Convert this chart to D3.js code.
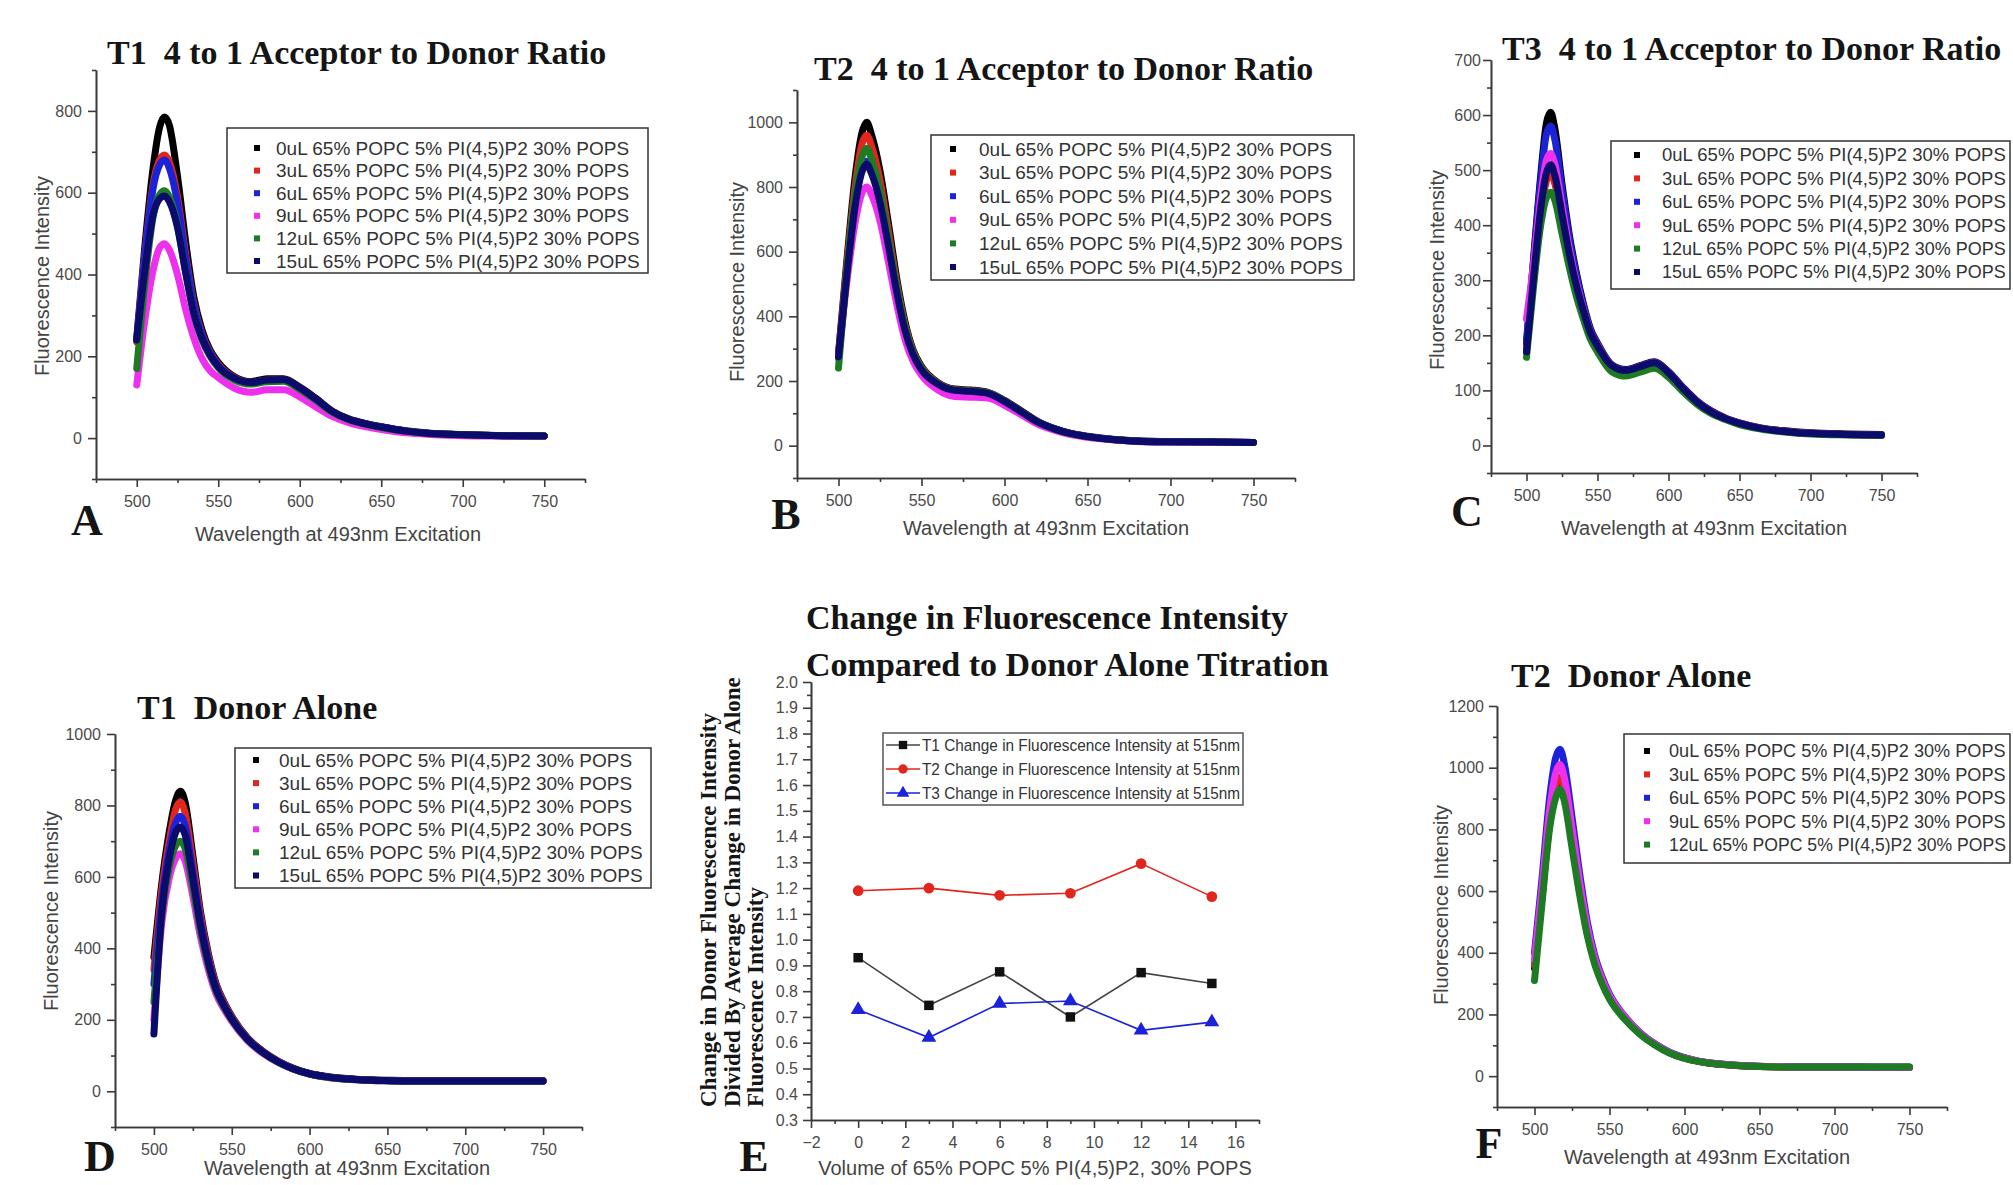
<!DOCTYPE html>
<meta charset="utf-8">
<style>
body { margin: 0; background: #fff; }
.axis path, .axis line { stroke: #3a3a3a; stroke-width: 1.6px; }
.axis text { font-family: "Liberation Sans", Arial, sans-serif; font-size: 16px; fill: #4a4a4a; }
.title { font-family: "Liberation Serif", "Times New Roman", serif; font-weight: bold; font-size: 34px; fill: #151515; white-space: pre; }
.letter { font-family: "Liberation Serif", "Times New Roman", serif; font-weight: bold; font-size: 44px; fill: #151515; }
.axis-label { font-family: "Liberation Sans", Arial, sans-serif; font-size: 20px; fill: #444; }
.legend text { font-family: "Liberation Sans", Arial, sans-serif; font-size: 19px; fill: #333; }
.spectrum { fill: none; stroke-width: 7px; stroke-linejoin: round; stroke-linecap: round; }
</style>
<body></body>
<script src="https://d3js.org/d3.v7.min.js"></script>
<script>

var wavelengths = [500, 505, 510, 514, 517, 520, 525, 530, 535, 540, 545, 550, 560, 570, 580, 590, 600, 610, 620, 630, 640, 650, 665, 680, 700, 725, 750];
var volumes = ["0uL", "3uL", "6uL", "9uL", "12uL", "15uL"];
var mixture = "65% POPC 5% PI(4,5)P2 30% POPS";
var seriesColors = ["#000000", "#e0261d", "#1c22d8", "#ee2fee", "#1f7a24", "#0b0b6b"];

// T1 4:1 acceptor to donor, one row per volume
var t1Acceptor = [
  [245, 470, 660, 760, 785, 765, 640, 480, 345, 265, 215, 185, 150, 138, 145, 145, 125, 97, 66, 47, 36, 28, 18, 12, 9, 6, 5],
  [235, 450, 620, 680, 692, 675, 590, 450, 330, 255, 210, 180, 148, 136, 142, 143, 123, 95, 65, 46, 35, 27, 17, 11, 8, 6, 5],
  [240, 445, 610, 668, 680, 660, 575, 440, 325, 252, 208, 178, 147, 135, 141, 142, 122, 94, 64, 46, 35, 27, 17, 11, 8, 6, 5],
  [130, 290, 410, 465, 475, 460, 400, 315, 245, 195, 165, 148, 122, 112, 118, 118, 101, 76, 53, 38, 28, 21, 13, 9, 6, 5, 4],
  [170, 380, 540, 595, 605, 590, 520, 405, 305, 240, 200, 172, 142, 132, 138, 139, 119, 92, 63, 45, 34, 26, 17, 11, 8, 6, 5],
  [240, 410, 545, 585, 592, 578, 515, 405, 305, 245, 203, 175, 146, 136, 142, 143, 123, 95, 65, 46, 35, 27, 17, 11, 8, 6, 5]
];

// T2 4:1 acceptor to donor
var t2Acceptor = [
  [285, 570, 830, 965, 1000, 960, 850, 690, 520, 385, 295, 245, 195, 175, 172, 165, 140, 108, 75, 53, 38, 29, 20, 15, 12, 11, 10],
  [280, 555, 800, 930, 960, 925, 820, 665, 505, 375, 290, 242, 193, 173, 170, 163, 138, 106, 74, 52, 37, 28, 19, 14, 12, 11, 10],
  [275, 530, 745, 855, 880, 850, 760, 625, 480, 360, 282, 236, 190, 171, 168, 162, 137, 105, 73, 52, 37, 28, 19, 14, 12, 11, 10],
  [270, 505, 690, 780, 800, 775, 695, 570, 440, 330, 260, 218, 172, 152, 150, 147, 125, 96, 67, 48, 34, 26, 18, 13, 11, 10, 10],
  [240, 540, 775, 890, 920, 885, 790, 645, 495, 370, 287, 240, 192, 172, 169, 163, 138, 106, 74, 52, 37, 28, 19, 14, 12, 11, 10],
  [275, 525, 740, 845, 870, 840, 752, 620, 477, 358, 281, 235, 190, 171, 168, 162, 137, 105, 73, 52, 37, 28, 19, 14, 12, 11, 10]
];

// T3 4:1 acceptor to donor
var t3Acceptor = [
  [185, 340, 490, 585, 605, 575, 475, 385, 315, 258, 212, 186, 147, 138, 145, 152, 134, 106, 81, 63, 50, 41, 32, 27, 23, 21, 20],
  [175, 300, 420, 480, 495, 475, 405, 340, 285, 240, 202, 180, 144, 135, 142, 148, 130, 103, 79, 61, 49, 40, 31, 26, 22, 20, 19],
  [190, 335, 480, 565, 580, 555, 465, 378, 310, 255, 210, 184, 146, 137, 144, 151, 133, 105, 80, 62, 49, 40, 31, 26, 22, 20, 19],
  [230, 330, 450, 518, 530, 510, 435, 360, 298, 248, 206, 182, 145, 136, 143, 150, 132, 104, 79, 61, 49, 40, 31, 26, 22, 20, 18],
  [160, 290, 400, 450, 460, 445, 385, 325, 272, 230, 193, 170, 134, 126, 133, 140, 124, 98, 75, 58, 47, 38, 30, 25, 21, 19, 18],
  [170, 305, 430, 495, 510, 490, 420, 350, 292, 245, 205, 181, 145, 136, 143, 150, 132, 104, 79, 61, 49, 40, 31, 26, 22, 20, 19]
];

// T1 donor alone
var t1Donor = [
  [375, 580, 730, 815, 840, 810, 660, 500, 385, 300, 250, 210, 150, 112, 84, 64, 50, 42, 37, 34, 32, 31, 30, 30, 30, 30, 30],
  [340, 560, 705, 790, 810, 780, 640, 490, 378, 296, 247, 208, 149, 111, 83, 63, 49, 41, 36, 33, 31, 30, 29, 29, 29, 29, 29],
  [300, 530, 680, 752, 770, 745, 615, 475, 368, 290, 242, 204, 147, 110, 82, 63, 49, 41, 36, 33, 31, 30, 29, 29, 29, 29, 29],
  [200, 470, 600, 652, 665, 645, 545, 430, 340, 272, 230, 196, 142, 106, 80, 61, 48, 40, 35, 32, 30, 29, 28, 28, 28, 28, 28],
  [250, 490, 630, 688, 700, 680, 570, 448, 352, 280, 236, 200, 145, 108, 81, 62, 48, 40, 35, 32, 30, 29, 28, 28, 28, 28, 28],
  [160, 500, 655, 725, 740, 718, 595, 462, 360, 285, 240, 202, 146, 109, 82, 62, 49, 41, 36, 33, 31, 30, 29, 29, 29, 29, 29]
];

// T2 donor alone (0 to 12 uL)
var t2Donor = [
  [350, 580, 815, 922, 950, 910, 760, 605, 470, 372, 305, 254, 188, 139, 103, 76, 58, 47, 40, 36, 33, 31, 30, 30, 30, 29, 29],
  [360, 590, 830, 940, 970, 930, 775, 615, 478, 377, 309, 257, 190, 140, 104, 77, 59, 48, 41, 36, 33, 31, 30, 30, 30, 29, 29],
  [400, 640, 900, 1030, 1060, 1010, 840, 660, 505, 395, 322, 266, 195, 143, 106, 78, 60, 48, 41, 37, 34, 32, 31, 30, 30, 29, 29],
  [380, 610, 860, 980, 1010, 965, 805, 635, 490, 385, 315, 262, 193, 141, 105, 77, 59, 48, 41, 37, 34, 32, 31, 30, 30, 29, 29],
  [310, 560, 800, 900, 930, 890, 740, 590, 460, 365, 300, 250, 185, 137, 102, 75, 58, 47, 40, 36, 33, 31, 30, 30, 30, 30, 30]
];

// panel E: change at 515nm relative to donor alone
var volumeAdded = [0, 3, 6, 9, 12, 15];
var t1Change = [0.93, 0.745, 0.875, 0.70, 0.872, 0.83];
var t2Change = [1.19, 1.20, 1.172, 1.18, 1.295, 1.167];
var t3Change = [0.728, 0.62, 0.752, 0.762, 0.648, 0.68];
var changeLabels = ["T1 Change in Fluorescence Intensity at 515nm",
                    "T2 Change in Fluorescence Intensity at 515nm",
                    "T3 Change in Fluorescence Intensity at 515nm"];
var changeColors = ["#111111", "#e0261d", "#1c22d8"];

var svg = d3.select("body").append("svg")
    .attr("width", 2013)
    .attr("height", 1185);

var panels = [
  {title: "T1  4 to 1 Acceptor to Donor Ratio", letter: "A", data: t1Acceptor,
   left: 96, right: 585, top: 70, bottom: 479, yDomain: [-100, 900], yStep: 200, pad: 6,
   titleX: 107, titleY: 64, letterX: 87, letterY: 535, xLabelX: 338, xLabelY: 541, yLabelX: 49, yLabelY: 276,
   legend: {x: 227, y: 128, w: 421, h: 145, row0: 148, gap: 22.6, mx: 30, tx: 49}},
  {title: "T2  4 to 1 Acceptor to Donor Ratio", letter: "B", data: t2Acceptor,
   left: 797, right: 1295, top: 90, bottom: 478, yDomain: [-100, 1100], yStep: 200, pad: 6,
   titleX: 814, titleY: 80, letterX: 786, letterY: 529, xLabelX: 1046, xLabelY: 535, yLabelX: 744, yLabelY: 282,
   legend: {x: 931, y: 135, w: 423, h: 145, row0: 149, gap: 23.6, mx: 22, tx: 48}},
  {title: "T3  4 to 1 Acceptor to Donor Ratio", letter: "C", data: t3Acceptor,
   left: 1491, right: 1917, top: 60, bottom: 473, yDomain: [-50, 700], yStep: 100, pad: 2,
   titleX: 1502, titleY: 60, letterX: 1467, letterY: 526, xLabelX: 1704, xLabelY: 535, yLabelX: 1444, yLabelY: 270,
   legend: {x: 1611, y: 141, w: 399, h: 148, row0: 155, gap: 23.4, mx: 26, tx: 51}},
  {title: "T1  Donor Alone", letter: "D", data: t1Donor,
   left: 115, right: 582, top: 734, bottom: 1127, yDomain: [-100, 1000], yStep: 200, pad: 6,
   titleX: 137, titleY: 719, letterX: 100, letterY: 1171, xLabelX: 347, xLabelY: 1175, yLabelX: 58, yLabelY: 911,
   legend: {x: 235, y: 748, w: 416, h: 140, row0: 760, gap: 23.1, mx: 21, tx: 44}},
  {title: "T2  Donor Alone", letter: "F", data: t2Donor,
   left: 1497, right: 1947, top: 706, bottom: 1107, yDomain: [-100, 1200], yStep: 200, pad: 5,
   titleX: 1511, titleY: 687, letterX: 1489, letterY: 1158, xLabelX: 1707, xLabelY: 1164, yLabelX: 1448, yLabelY: 905,
   legend: {x: 1624, y: 734, w: 386, h: 129, row0: 751, gap: 23.4, mx: 23, tx: 45}}
];

panels.forEach(function(p) { drawSpectrum(p); });
drawChange();

function drawSpectrum(p) {
    var x = d3.scaleLinear().domain([475, 775]).range([p.left, p.right]);
    var y = d3.scaleLinear().domain(p.yDomain).range([p.bottom, p.top]);
    var g = svg.append("g");

    var xMajor = d3.range(500, 751, 50);
    var xMinor = d3.range(475, 776, 25).filter(function(v) { return v % 50 !== 0; });
    var yMajor = d3.range(0, p.yDomain[1] + 1, p.yStep);
    var yMinor = d3.range(p.yDomain[0], p.yDomain[1] + 1, p.yStep / 2)
        .filter(function(v) { return v % p.yStep !== 0; });

    // axes, minor ticks first then labelled ones
    g.append("g").attr("class", "axis").attr("transform", "translate(0," + p.bottom + ")")
        .call(d3.axisBottom(x).tickValues(xMinor).tickSize(4).tickSizeOuter(0).tickFormat(""));
    g.append("g").attr("class", "axis").attr("transform", "translate(0," + p.bottom + ")")
        .call(d3.axisBottom(x).tickValues(xMajor).tickSize(8).tickSizeOuter(0).tickPadding(9));
    g.append("g").attr("class", "axis").attr("transform", "translate(" + p.left + ",0)")
        .call(d3.axisLeft(y).tickValues(yMinor).tickSize(4).tickSizeOuter(0).tickFormat(""));
    g.append("g").attr("class", "axis").attr("transform", "translate(" + p.left + ",0)")
        .call(d3.axisLeft(y).tickValues(yMajor).tickSize(8).tickSizeOuter(0)
            .tickPadding(p.pad).tickFormat(d3.format("d")));

    // spectra as thick lines
    var line = d3.line()
        .x(function(d, i) { return x(wavelengths[i]); })
        .y(function(d) { return y(d); })
        .curve(d3.curveMonotoneX);

    g.selectAll(".spectrum").data(p.data).enter().append("path")
        .attr("class", "spectrum")
        .attr("d", line)
        .attr("stroke", function(d, i) { return seriesColors[i]; });

    // legend box
    var lg = g.append("g").attr("class", "legend");
    lg.append("rect")
        .attr("x", p.legend.x).attr("y", p.legend.y)
        .attr("width", p.legend.w).attr("height", p.legend.h)
        .attr("fill", "#fff").attr("stroke", "#333").attr("stroke-width", 1.5);
    var rows = lg.selectAll(".row").data(p.data).enter().append("g")
        .attr("transform", function(d, i) {
            return "translate(" + p.legend.x + "," + (p.legend.row0 + i * p.legend.gap) + ")";
        });
    rows.append("rect")
        .attr("x", p.legend.mx - 3).attr("y", -3)
        .attr("width", 6).attr("height", 6)
        .attr("fill", function(d, i) { return seriesColors[i]; });
    rows.append("text")
        .attr("x", p.legend.tx)
        .attr("dy", "0.35em")
        .text(function(d, i) { return volumes[i] + " " + mixture; })
        .each(function() {
            // shrink the entries that would run past the page edge
            var room = 2006 - (p.legend.x + p.legend.tx);
            var len = this.getComputedTextLength();
            if (len > room) {
                d3.select(this).style("font-size", (19 * room / len).toFixed(2) + "px");
            }
        });

    // texts
    g.append("text").attr("class", "title")
        .attr("x", p.titleX).attr("y", p.titleY)
        .text(p.title);
    g.append("text").attr("class", "letter")
        .attr("x", p.letterX).attr("y", p.letterY)
        .attr("text-anchor", "middle")
        .text(p.letter);
    g.append("text").attr("class", "axis-label")
        .attr("x", p.xLabelX).attr("y", p.xLabelY)
        .attr("text-anchor", "middle")
        .text("Wavelength at 493nm Excitation");
    g.append("text").attr("class", "axis-label")
        .attr("transform", "translate(" + p.yLabelX + "," + p.yLabelY + ") rotate(-90)")
        .attr("text-anchor", "middle")
        .text("Fluorescence Intensity");
}

function drawChange() {
    var x = d3.scaleLinear().domain([-2, 17]).range([811, 1259]);
    var y = d3.scaleLinear().domain([0.3, 2.0]).range([1120, 682]);
    var g = svg.append("g");

    var xMajor = d3.range(-2, 17, 2);
    var xMinor = d3.range(-1, 18, 2);
    var yMajor = d3.range(3, 21).map(function(v) { return v / 10; });
    var yMinor = d3.range(3, 20).map(function(v) { return v / 10 + 0.05; });

    g.append("g").attr("class", "axis").attr("transform", "translate(0,1120)")
        .call(d3.axisBottom(x).tickValues(xMinor).tickSize(4).tickSizeOuter(0).tickFormat(""));
    g.append("g").attr("class", "axis").attr("transform", "translate(0,1120)")
        .call(d3.axisBottom(x).tickValues(xMajor).tickSize(8).tickSizeOuter(0).tickPadding(9));
    g.append("g").attr("class", "axis").attr("transform", "translate(811,0)")
        .call(d3.axisLeft(y).tickValues(yMinor).tickSize(4).tickSizeOuter(0).tickFormat(""));
    g.append("g").attr("class", "axis").attr("transform", "translate(811,0)")
        .call(d3.axisLeft(y).tickValues(yMajor).tickSize(8).tickSizeOuter(0).tickPadding(5).tickFormat(d3.format(".1f")));

    var series = [t1Change, t2Change, t3Change];
    var shapes = [d3.symbolSquare, d3.symbolCircle, d3.symbolTriangle];
    var line = d3.line()
        .x(function(d, i) { return x(volumeAdded[i]); })
        .y(function(d) { return y(d); });

    series.forEach(function(s, k) {
        g.append("path").datum(s)
            .attr("d", line)
            .attr("fill", "none")
            .attr("stroke", k === 0 ? "#444" : changeColors[k])
            .attr("stroke-width", 1.6);
        g.selectAll(".m" + k).data(s).enter().append("path")
            .attr("transform", function(d, i) { return "translate(" + x(volumeAdded[i]) + "," + y(d) + ")"; })
            .attr("d", d3.symbol().type(shapes[k]).size(k === 2 ? 95 : 90))
            .attr("fill", changeColors[k]);
    });

    // legend
    var lg = g.append("g").attr("class", "legend");
    lg.append("rect")
        .attr("x", 883).attr("y", 733).attr("width", 360).attr("height", 72)
        .attr("fill", "#fff").attr("stroke", "#555").attr("stroke-width", 1.5);
    var rows = lg.selectAll(".row").data(changeLabels).enter().append("g")
        .attr("transform", function(d, i) { return "translate(883," + (745 + i * 24) + ")"; });
    rows.append("line")
        .attr("x1", 3).attr("x2", 37).attr("y1", 0).attr("y2", 0)
        .attr("stroke", function(d, i) { return i === 0 ? "#444" : changeColors[i]; })
        .attr("stroke-width", 1.6);
    rows.append("path")
        .attr("transform", "translate(20,0)")
        .attr("d", function(d, i) { return d3.symbol().type(shapes[i]).size(70)(); })
        .attr("fill", function(d, i) { return changeColors[i]; });
    rows.append("text")
        .attr("x", 39).attr("dy", "0.35em")
        .attr("textLength", 318).attr("lengthAdjust", "spacingAndGlyphs")
        .style("font-size", "17px")
        .text(function(d) { return d; });

    // titles
    g.append("text").attr("class", "title").attr("x", 806).attr("y", 629)
        .text("Change in Fluorescence Intensity");
    g.append("text").attr("class", "title").attr("x", 806).attr("y", 676)
        .text("Compared to Donor Alone Titration");
    g.append("text").attr("class", "letter").attr("x", 754).attr("y", 1171)
        .attr("text-anchor", "middle").text("E");
    g.append("text").attr("class", "axis-label")
        .attr("x", 1035).attr("y", 1175).attr("text-anchor", "middle")
        .text("Volume of 65% POPC 5% PI(4,5)P2, 30% POPS");

    var yTitle = ["Change in Donor Fluorescence Intensity",
                  "Divided By Average Change in Donor Alone",
                  "Fluorescence Intensity"];
    g.selectAll(".ytitle").data(yTitle).enter().append("text")
        .attr("transform", function(d, i) { return "translate(" + (716 + i * 23.5) + ",1107) rotate(-90)"; })
        .style("font-family", "'Liberation Serif', 'Times New Roman', serif")
        .style("font-weight", "bold")
        .style("font-size", "23px")
        .attr("fill", "#151515")
        .text(function(d) { return d; });
}

</script>
